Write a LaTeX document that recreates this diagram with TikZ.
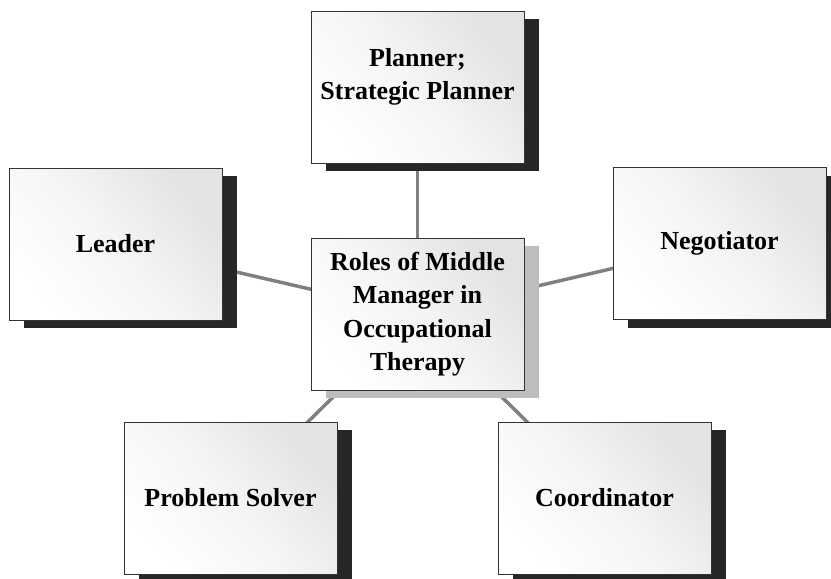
\documentclass[tikz,border=0pt]{standalone}
\usepackage{fontspec}
\setmainfont{Liberation Serif}
\usetikzlibrary{shadows,backgrounds}
\begin{document}
\begin{tikzpicture}[x=0.75pt,y=-0.75pt,
		role/.style={draw=black!80,line width=0.6pt,minimum width=159.75pt,minimum height=114pt,
			top color=black!11,bottom color=white,middle color=white!96!black,shading angle=-50,
			font=\fontsize{19.5}{25}\selectfont\bfseries,align=center,
			drop shadow={shadow xshift=11.25pt,shadow yshift=-6pt,fill=black!85,opacity=1}},
		hub/.style={role,drop shadow={shadow xshift=11.25pt,shadow yshift=-6pt,fill=black!26,opacity=1}},
		link/.style={draw=black!50,line width=2.6pt}]
		\useasboundingbox (0,0) rectangle (831,578);

		\node[role,label={[font=\fontsize{19.5}{25}\selectfont\bfseries,align=center,yshift=7.5pt]center:{Planner;\\Strategic Planner}}] (planner) at (417.5,87) {};
		\node[role] (leader) at (115.5,244) {Leader};
		\node[role] (negotiator) at (719.5,243.5) {Negotiator};
		\node[hub] (roles) at (417.5,314) {Roles of Middle\\Manager in\\Occupational\\Therapy};
		\node[role] (solver) at (230.5,498) {Problem Solver};
		\node[role] (coordinator) at (604.5,498) {Coordinator};

		\begin{scope}[on background layer]
			\draw[link] (roles.center) -- (planner.center);
			\draw[link] (roles.center) -- (leader.center);
			\draw[link] (roles.center) -- (negotiator.center);
			\draw[link] (roles.center) -- (solver.center);
			\draw[link] (roles.center) -- (coordinator.center);
		\end{scope}
	\end{tikzpicture}
\end{document}
